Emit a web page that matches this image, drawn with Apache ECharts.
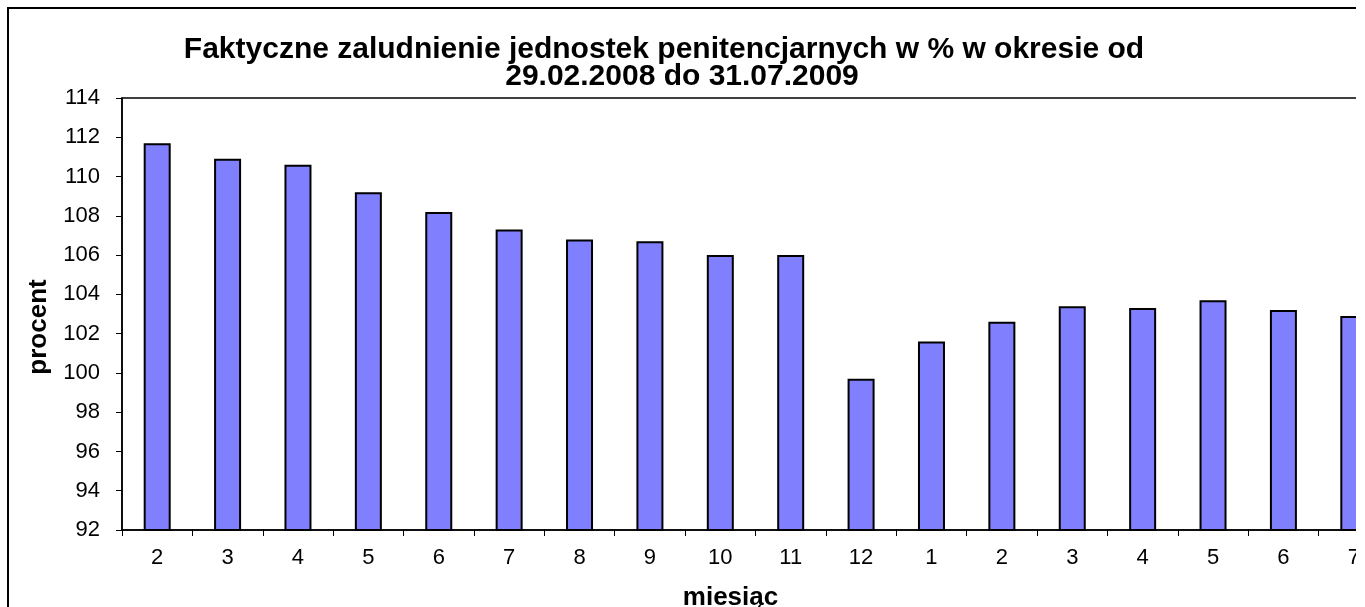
<!DOCTYPE html>
<html>
<head>
<meta charset="utf-8">
<script src="https://cdn.jsdelivr.net/npm/echarts@6/dist/echarts.min.js"></script>
<style>
html,body{margin:0;padding:0;background:#fff;}
#chart{width:1365px;height:607px;}
</style>
</head>
<body>
<div id="chart"></div>
<script>
var titleLine1 = 'Faktyczne zaludnienie jednostek penitencjarnych w % w okresie od';
var titleLine2 = '29.02.2008 do 31.07.2009';
var xAxisName = 'miesiąc';
var yAxisName = 'procent';
var categories = ['2','3','4','5','6','7','8','9','10','11','12','1','2','3','4','5','6','7'];
var values = [111.7,110.9,110.6,109.2,108.2,107.3,106.8,106.7,106.0,106.0,99.7,101.6,102.6,103.4,103.3,103.7,103.2,102.9];
var yMin = 92, yMax = 114, yStep = 2;

var FONT = '"Liberation Sans", Arial, sans-serif';
var titleStyle = {fontFamily:FONT,fontWeight:'bold',fontSize:30,lineHeight:27,color:'#000'};
var chart = echarts.init(document.getElementById('chart'), null, {renderer:'canvas'});
chart.setOption({
  backgroundColor:'#fff',
  animation:false,
  title:[
    {text:titleLine1, left:659, top:31, textAlign:'center', textStyle:titleStyle},
    {text:titleLine2, left:677, top:58, textAlign:'center', textStyle:titleStyle}
  ],
  grid:{left:122, top:98, bottom:77, right:-24, containLabel:false, outerBoundsMode:'none',
        show:true, borderColor:'#000', borderWidth:1.5, backgroundColor:'transparent'},
  xAxis:{
    type:'category', data:categories,
    name:xAxisName, nameLocation:'middle', nameGap:55,
    nameTextStyle:{fontFamily:FONT,fontWeight:'bold',fontSize:26,color:'#000',padding:[0,50,0,0]},
    axisLine:{lineStyle:{color:'#000',width:1.5}},
    axisTick:{show:true,length:6,lineStyle:{color:'#000',width:1}},
    axisLabel:{fontFamily:FONT,fontSize:22,color:'#000',margin:17}
  },
  yAxis:{
    type:'value', min:yMin, max:yMax, interval:yStep,
    name:yAxisName, nameLocation:'middle', nameGap:70, nameRotate:90,
    nameTextStyle:{fontFamily:FONT,fontWeight:'bold',fontSize:26,color:'#000',padding:[0,26,0,0]},
    axisLine:{show:true,lineStyle:{color:'#000',width:1.5}},
    axisTick:{show:true,length:6,lineStyle:{color:'#000',width:1}},
    splitLine:{show:false},
    axisLabel:{fontFamily:FONT,fontSize:22,color:'#000',margin:22}
  },
  series:[{
    type:'bar', data:values, barWidth:27,
    itemStyle:{color:'#8080ff',borderColor:'#000',borderWidth:2}
  }],
  graphic:[
    {type:'rect',shape:{x:8,y:8,width:1400,height:700},style:{fill:null,stroke:'#000',lineWidth:2},silent:true,z:100},
    {type:'rect',shape:{x:1356,y:0,width:20,height:607},style:{fill:'#fff',stroke:null},silent:true,z:101}
  ]
});
</script>
</body>
</html>
